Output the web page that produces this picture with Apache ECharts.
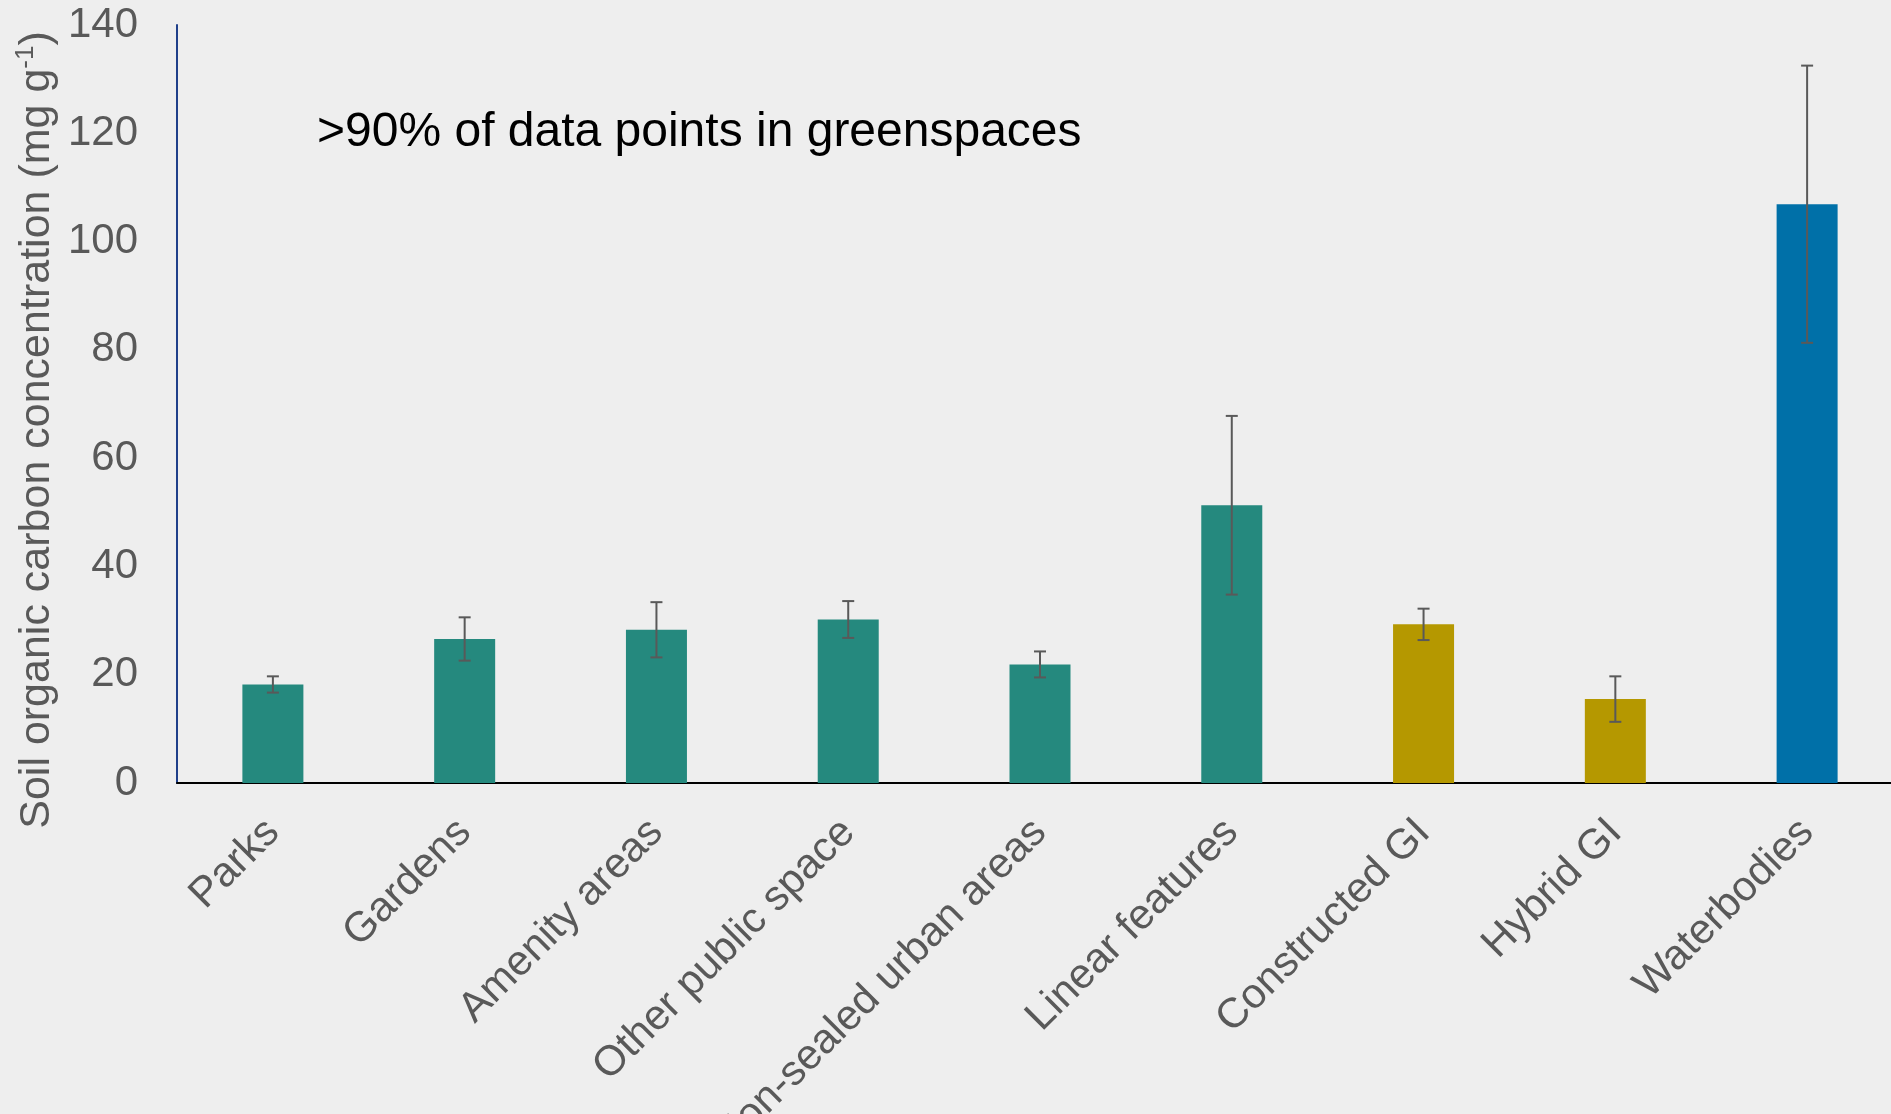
<!DOCTYPE html>
<html>
<head>
<meta charset="utf-8">
<script src="https://cdn.jsdelivr.net/npm/echarts@6/dist/echarts.min.js"></script>
<style>
html,body{margin:0;padding:0;background:#eeeeee;}
#chart{width:1891px;height:1114px;}
</style>
</head>
<body>
<div id="chart"></div>
<script>
const categories = ['Parks','Gardens','Amenity areas','Other public space','Non-sealed urban areas','Linear features','Constructed GI','Hybrid GI','Waterbodies'];
const soilCarbon = [18.2, 26.6, 28.3, 30.2, 21.9, 51.3, 29.3, 15.5, 106.9];
const errorSize = [1.5, 4.0, 5.1, 3.4, 2.4, 16.5, 2.9, 4.2, 25.6];
const groups = ['green','green','green','green','green','green','grey','grey','blue'];
const yTicks = [0, 20, 40, 60, 80, 100, 120, 140];
const annotation = '>90% of data points in greenspaces';

const groupColors = {green:'#25897e', grey:'#b59800', blue:'#0070a8'};
const FONT = '"Liberation Sans", Arial, sans-serif';

const chart = echarts.init(document.getElementById('chart'));
const barData = soilCarbon.map((v,i)=>({value:v, itemStyle:{color:groupColors[groups[i]]}}));
const errData = soilCarbon.map((v,i)=>[i, v - errorSize[i], v + errorSize[i]]);

chart.setOption({
  backgroundColor:'#eeeeee',
  animation:false,
  grid:{left:177, top:25, height:758, width:1726, containLabel:false, outerBoundsMode:'none'},
  xAxis:{
    type:'category', data:categories,
    axisLine:{show:true, onZero:true, lineStyle:{color:'#000000', width:2}},
    axisTick:{show:false},
    axisLabel:{rotate:45, fontSize:42, color:'#595959', fontFamily:FONT, margin:43, interval:0}
  },
  yAxis:{
    type:'value', min:yTicks[0], max:yTicks[yTicks.length-1], interval:20,
    axisLine:{show:true, lineStyle:{color:'#1f3f8a', width:2}},
    axisTick:{show:false},
    splitLine:{show:false},
    axisLabel:{fontSize:42, color:'#595959', fontFamily:FONT, margin:39}
  },
  graphic:[
    {type:'text', x:37, y:430, rotation:Math.PI/2,
     style:{text:'{a|Soil organic carbon concentration (mg g}{s|-1}{a|)}',
       align:'center', verticalAlign:'middle', fill:'#595959',
       rich:{a:{fontSize:43, fontFamily:FONT, fill:'#595959', lineHeight:48},
             s:{fontSize:26, fontFamily:FONT, fill:'#595959', verticalAlign:'top', lineHeight:48}}}},
    {type:'text', x:317, y:133,
     style:{text:annotation, fontSize:48, fontFamily:FONT, fill:'#000000', align:'left', verticalAlign:'middle'}}
  ],
  series:[
    {type:'bar', data:barData, barWidth:61, z:2},
    {type:'custom', data:errData, z:3,
     encode:{x:0, y:[1,2]},
     renderItem:function(params, api){
       const lo = api.coord([api.value(0), api.value(1)]);
       const hi = api.coord([api.value(0), api.value(2)]);
       const hw = 6;
       const st = {stroke:'#595959', lineWidth:2};
       return {type:'group', children:[
         {type:'line', shape:{x1:lo[0], y1:lo[1], x2:hi[0], y2:hi[1]}, style:st},
         {type:'line', shape:{x1:lo[0]-hw, y1:lo[1], x2:lo[0]+hw, y2:lo[1]}, style:st},
         {type:'line', shape:{x1:hi[0]-hw, y1:hi[1], x2:hi[0]+hw, y2:hi[1]}, style:st}
       ]};
     }}
  ]
});
</script>
</body>
</html>
